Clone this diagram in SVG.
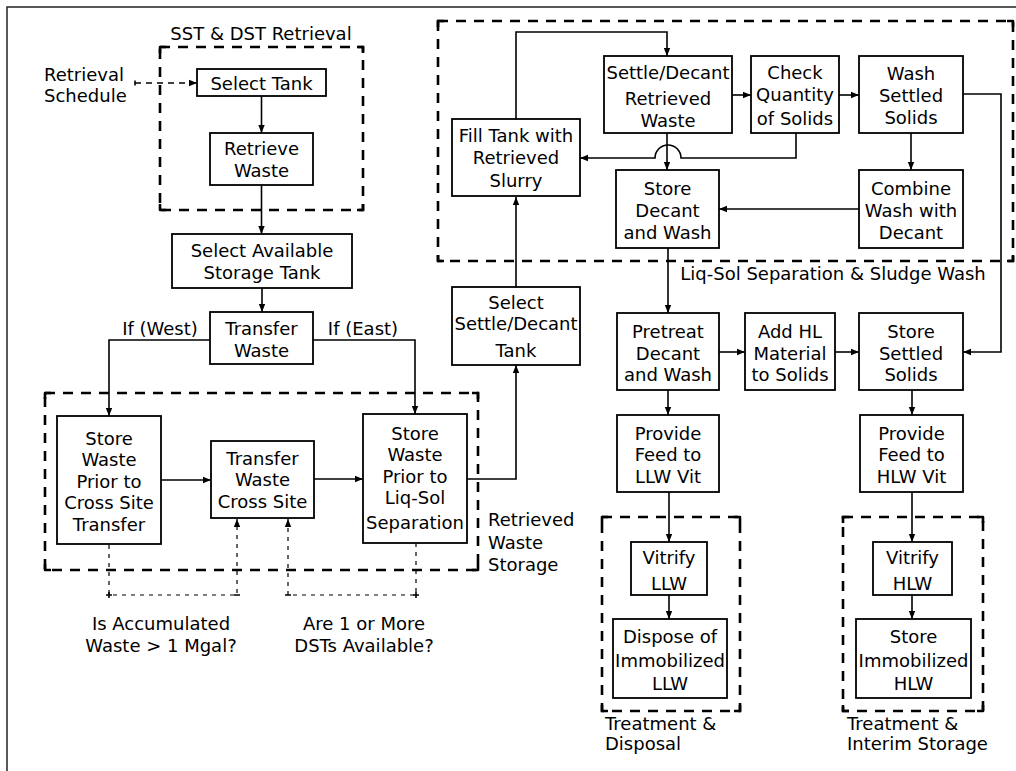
<svg xmlns="http://www.w3.org/2000/svg" width="1016" height="771" viewBox="0 0 1016 771">
<defs>
<style>
.bg{fill:#ffffff}
.box{fill:#ffffff;stroke:#000;stroke-width:1.8}
.t{font-family:"DejaVu Sans","Liberation Sans",sans-serif;font-size:18px;fill:#000;text-anchor:middle}
.s{text-anchor:start}
.ln{fill:none;stroke:#000;stroke-width:1.6}
.dl{fill:none;stroke:#000;stroke-width:1.2;stroke-dasharray:4 5}
.grp{fill:none;stroke:#000;stroke-width:2.6;stroke-dasharray:10 8}
.cor{fill:none;stroke:#000;stroke-width:2.6;stroke-linejoin:round}
.frame{fill:none;stroke:#222;stroke-width:1.5}
</style>
<marker id="ah" markerUnits="userSpaceOnUse" markerWidth="9" markerHeight="8" refX="8" refY="4" orient="auto">
<path d="M0,0.8 L8,4 L0,7.2 z" fill="#000"/>
</marker>
</defs>
<rect class="bg" x="0" y="0" width="1016" height="771"/>
<path class="frame" d="M7,771 V7 H1016"/>

<g id="groups">
<g id="grp-sst">
<rect class="grp" x="160" y="47" width="203" height="163"/>
<path class="cor" d="M160,53 V47 H166 M357,47 H363 V53 M363,204 V210 H357 M166,210 H160 V204"/>
<text class="t" x="261" y="39.5">SST &amp; DST Retrieval</text>
</g>
<g id="grp-liqsol">
<rect class="grp" x="438" y="21" width="575" height="240"/>
<path class="cor" d="M438,27 V21 H444 M1007,21 H1013 V27 M1013,255 V261 H1007 M444,261 H438 V255"/>
<text class="t" x="833" y="279.5">Liq-Sol Separation &amp; Sludge Wash</text>
</g>
<g id="grp-storage">
<rect class="grp" x="45" y="393" width="433" height="177"/>
<path class="cor" d="M45,399 V393 H51 M472,393 H478 V399 M478,564 V570 H472 M51,570 H45 V564"/>
<text class="t s" x="488" y="526">Retrieved</text>
<text class="t s" x="488" y="548.5">Waste</text>
<text class="t s" x="488" y="571">Storage</text>
</g>
<g id="grp-disposal">
<rect class="grp" x="602" y="517" width="138" height="194"/>
<path class="cor" d="M602,523 V517 H608 M734,517 H740 V523 M740,705 V711 H734 M608,711 H602 V705"/>
<text class="t s" x="605" y="729.5">Treatment &amp;</text>
<text class="t s" x="605" y="749.5">Disposal</text>
</g>
<g id="grp-interim">
<rect class="grp" x="843" y="517" width="140" height="194"/>
<path class="cor" d="M843,523 V517 H849 M977,517 H983 V523 M983,705 V711 H977 M849,711 H843 V705"/>
<text class="t s" x="847" y="729.5">Treatment &amp;</text>
<text class="t s" x="847" y="749.5">Interim Storage</text>
</g>
</g>

<g id="connectors">
<path class="ln" stroke-width="1.2" d="M135,80.5 V85.5"/>
<path fill="none" stroke="#000" stroke-width="1.4" stroke-dasharray="6 5" d="M135,83 H197" marker-end="url(#ah)"/>
<path class="ln" d="M261.5,96 V133" marker-end="url(#ah)"/>
<path class="ln" d="M261.5,185 V234" marker-end="url(#ah)"/>
<path class="ln" d="M262,288 V312" marker-end="url(#ah)"/>
<path class="ln" d="M210,340 H109 V416" marker-end="url(#ah)"/>
<path class="ln" d="M313,340 H415 V414" marker-end="url(#ah)"/>
<path class="ln" d="M161,480 H211" marker-end="url(#ah)"/>
<path class="ln" d="M314,479 H363" marker-end="url(#ah)"/>
<path class="ln" d="M467,479 H516 V365" marker-end="url(#ah)"/>
<path class="ln" d="M516,287 V197" marker-end="url(#ah)"/>
<path class="ln" d="M516,119 V32 H667 V56" marker-end="url(#ah)"/>
<path class="ln" d="M732,95 H751" marker-end="url(#ah)"/>
<path class="ln" d="M839,95 H859" marker-end="url(#ah)"/>
<path class="ln" d="M796,133 V158 H681 A13,13 0 0 0 655,158 H580" marker-end="url(#ah)"/>
<path class="ln" d="M667,133 V170" marker-end="url(#ah)"/>
<path class="ln" d="M911,133 V170" marker-end="url(#ah)"/>
<path class="ln" d="M859,209 H719" marker-end="url(#ah)"/>
<path class="ln" d="M963,94 H1001 V352 H963" marker-end="url(#ah)"/>
<path class="ln" d="M668,248 V313" marker-end="url(#ah)"/>
<path class="ln" d="M719,352 H745" marker-end="url(#ah)"/>
<path class="ln" d="M835,352 H859" marker-end="url(#ah)"/>
<path class="ln" d="M668,390 V415" marker-end="url(#ah)"/>
<path class="ln" d="M912,390 V415" marker-end="url(#ah)"/>
<path class="ln" d="M669,492 V542" marker-end="url(#ah)"/>
<path class="ln" d="M669,595 V619" marker-end="url(#ah)"/>
<path class="ln" d="M912,492 V542" marker-end="url(#ah)"/>
<path class="ln" d="M912,595 V619" marker-end="url(#ah)"/>
<path class="dl" d="M109,545 V595 H237 V519" marker-end="url(#ah)"/>
<path class="dl" d="M416,543 V595 H288 V519" marker-end="url(#ah)"/>
<path class="ln" stroke-width="1.1" d="M106,595 H112 M109,592 V598 M234,595 H240 M285,595 H291 M413,595 H419 M416,592 V598"/>
<text class="t" x="160" y="334.5">If (West)</text>
<text class="t" x="363" y="334.5">If (East)</text>
<text class="t s" x="44" y="80.5">Retrieval</text>
<text class="t s" x="44" y="101.5">Schedule</text>
<text class="t" x="161" y="629.5">Is Accumulated</text>
<text class="t" x="161" y="651.5">Waste &gt; 1 Mgal?</text>
<text class="t" x="364" y="629.5">Are 1 or More</text>
<text class="t" x="364" y="651.5">DSTs Available?</text>
</g>

<g id="n-select-tank"><rect class="box" x="197" y="69" width="129" height="27"/><text class="t" x="261.5" y="89.5">Select Tank</text></g>
<g id="n-retrieve-waste"><rect class="box" x="210" y="133" width="103" height="52"/><text class="t" x="261.5" y="154.5">Retrieve</text><text class="t" x="261.5" y="176.5">Waste</text></g>
<g id="n-select-available"><rect class="box" x="172" y="234" width="180" height="54"/><text class="t" x="262" y="256.5">Select Available</text><text class="t" x="262" y="278.5">Storage Tank</text></g>
<g id="n-transfer-waste"><rect class="box" x="210" y="312" width="103" height="52"/><text class="t" x="261.5" y="334.5">Transfer</text><text class="t" x="261.5" y="356.5">Waste</text></g>
<g id="n-store-prior-cross"><rect class="box" x="57" y="416" width="104" height="128"/><text class="t" x="109" y="444.5">Store</text><text class="t" x="109" y="466">Waste</text><text class="t" x="109" y="487.5">Prior to</text><text class="t" x="109" y="509">Cross Site</text><text class="t" x="109" y="530.5">Transfer</text></g>
<g id="n-transfer-cross"><rect class="box" x="211" y="441" width="103" height="77"/><text class="t" x="262.5" y="464.5">Transfer</text><text class="t" x="262.5" y="486">Waste</text><text class="t" x="262.5" y="507.5">Cross Site</text></g>
<g id="n-store-prior-liqsol"><rect class="box" x="363" y="414" width="104" height="129"/><text class="t" x="415" y="439.5">Store</text><text class="t" x="415" y="460.5">Waste</text><text class="t" x="415" y="482.5">Prior to</text><text class="t" x="415" y="503.5">Liq-Sol</text><text class="t" x="415" y="528.5">Separation</text></g>
<g id="n-select-settle"><rect class="box" x="452" y="287" width="128" height="78"/><text class="t" x="516" y="308.5">Select</text><text class="t" x="516" y="329.5">Settle/Decant</text><text class="t" x="516" y="356.5">Tank</text></g>
<g id="n-fill-tank"><rect class="box" x="452" y="119" width="128" height="77"/><text class="t" x="516" y="141.5">Fill Tank with</text><text class="t" x="516" y="163.5">Retrieved</text><text class="t" x="516" y="186.5">Slurry</text></g>
<g id="n-settle-decant"><rect class="box" x="604" y="56" width="128" height="77"/><text class="t" x="668" y="78.5">Settle/Decant</text><text class="t" x="668" y="104.5">Retrieved</text><text class="t" x="668" y="126.5">Waste</text></g>
<g id="n-check-quantity"><rect class="box" x="751" y="56" width="88" height="77"/><text class="t" x="795" y="78.5">Check</text><text class="t" x="795" y="100.5">Quantity</text><text class="t" x="795" y="124.5">of Solids</text></g>
<g id="n-wash-settled"><rect class="box" x="859" y="56" width="104" height="77"/><text class="t" x="911" y="79.5">Wash</text><text class="t" x="911" y="101.5">Settled</text><text class="t" x="911" y="123.5">Solids</text></g>
<g id="n-store-decant"><rect class="box" x="616" y="170" width="103" height="78"/><text class="t" x="667.5" y="194.5">Store</text><text class="t" x="667.5" y="216.5">Decant</text><text class="t" x="667.5" y="238.5">and Wash</text></g>
<g id="n-combine"><rect class="box" x="859" y="170" width="104" height="78"/><text class="t" x="911" y="194.5">Combine</text><text class="t" x="911" y="216.5">Wash with</text><text class="t" x="911" y="238.5">Decant</text></g>
<g id="n-pretreat"><rect class="box" x="617" y="313" width="102" height="77"/><text class="t" x="668" y="337.5">Pretreat</text><text class="t" x="668" y="359.5">Decant</text><text class="t" x="668" y="380.5">and Wash</text></g>
<g id="n-add-hl"><rect class="box" x="745" y="313" width="90" height="77"/><text class="t" x="790" y="337.5">Add HL</text><text class="t" x="790" y="359.5">Material</text><text class="t" x="790" y="380.5">to Solids</text></g>
<g id="n-store-settled"><rect class="box" x="859" y="313" width="104" height="77"/><text class="t" x="911" y="337.5">Store</text><text class="t" x="911" y="359.5">Settled</text><text class="t" x="911" y="380.5">Solids</text></g>
<g id="n-feed-llw"><rect class="box" x="617" y="415" width="102" height="77"/><text class="t" x="668" y="439.5">Provide</text><text class="t" x="668" y="460.5">Feed to</text><text class="t" x="668" y="482.5">LLW Vit</text></g>
<g id="n-feed-hlw"><rect class="box" x="860" y="415" width="103" height="77"/><text class="t" x="911.5" y="439.5">Provide</text><text class="t" x="911.5" y="460.5">Feed to</text><text class="t" x="911.5" y="482.5">HLW Vit</text></g>
<g id="n-vitrify-llw"><rect class="box" x="631" y="542" width="76" height="53"/><text class="t" x="669" y="563.5">Vitrify</text><text class="t" x="669" y="589.5">LLW</text></g>
<g id="n-dispose-llw"><rect class="box" x="613" y="619" width="114" height="79"/><text class="t" x="670" y="642.5">Dispose of</text><text class="t" x="670" y="666.5">Immobilized</text><text class="t" x="670" y="689.5">LLW</text></g>
<g id="n-vitrify-hlw"><rect class="box" x="873" y="542" width="79" height="53"/><text class="t" x="912.5" y="563.5">Vitrify</text><text class="t" x="912.5" y="589.5">HLW</text></g>
<g id="n-store-hlw"><rect class="box" x="856" y="619" width="115" height="79"/><text class="t" x="913.5" y="642.5">Store</text><text class="t" x="913.5" y="666.5">Immobilized</text><text class="t" x="913.5" y="689.5">HLW</text></g>
</svg>
